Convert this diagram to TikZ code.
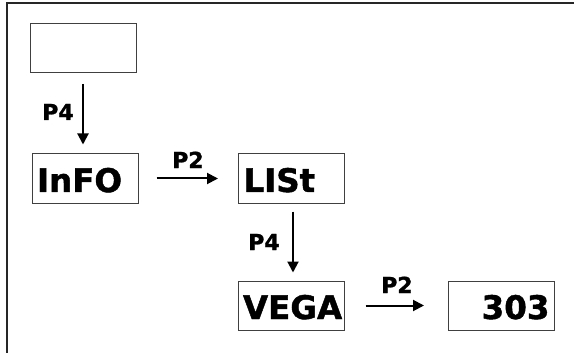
\documentclass[tikz,border=0pt]{standalone}
\usepackage{fontspec}
\setmainfont{DejaVu Sans}
\newfontfamily\heavyfont{DejaVu Sans Bold}[FakeBold=1.3]
\usetikzlibrary{arrows.meta}
\begin{document}
\begin{tikzpicture}[x=1pt,y=-1pt,
  box/.style={draw=black!75, line width=1pt, rectangle, minimum height=49pt,
    inner xsep=5pt, inner ysep=0pt, text width=96pt,
    text height=27pt, text depth=0pt,
    font=\fontsize{32.5}{40}\selectfont\heavyfont},
  lbl/.style={anchor=base west, inner sep=0pt, font=\fontsize{22}{26}\selectfont\heavyfont},
  arr/.style={line width=2pt, -{Triangle[length=11pt,width=11pt]}},
  frame/.style={line width=2pt, draw=black!85}]
\useasboundingbox (0,0) rectangle (574,353);
\draw[frame] (7,353) -- (7,3.5) -- (574,3.5);

\node[box] (top) at (83,48) {};
\node[box, align=left] (info) at (85,178.5) {InFO};
\node[box, align=left] (list) at (291.5,178.5) {LISt};
\node[box, align=left] (vega) at (291,305.5) {VEGA};
\node[box, align=right] (n303) at (501.5,305.5) {303\hspace*{2pt}};

\draw[arr, shorten <=11pt, shorten >=9pt] (top.south) -- (top.south |- info.north);
\draw[arr, shorten <=18pt, shorten >=20pt] (info.east) -- (list.west);
\draw[arr, shorten <=8pt, shorten >=8pt] ([xshift=1.5pt]list.south) -- ([xshift=2pt]vega.north);
\draw[arr, shorten <=21pt, shorten >=24pt] (vega.east) -- (n303.west);

\node[lbl] (l1) at (42,120) {P4};
\node[lbl] (l2) at (172,168) {P2};
\node[lbl] (l3) at (248,250) {P4};
\node[lbl] (l4) at (381,293) {P2};
\end{tikzpicture}
\end{document}
